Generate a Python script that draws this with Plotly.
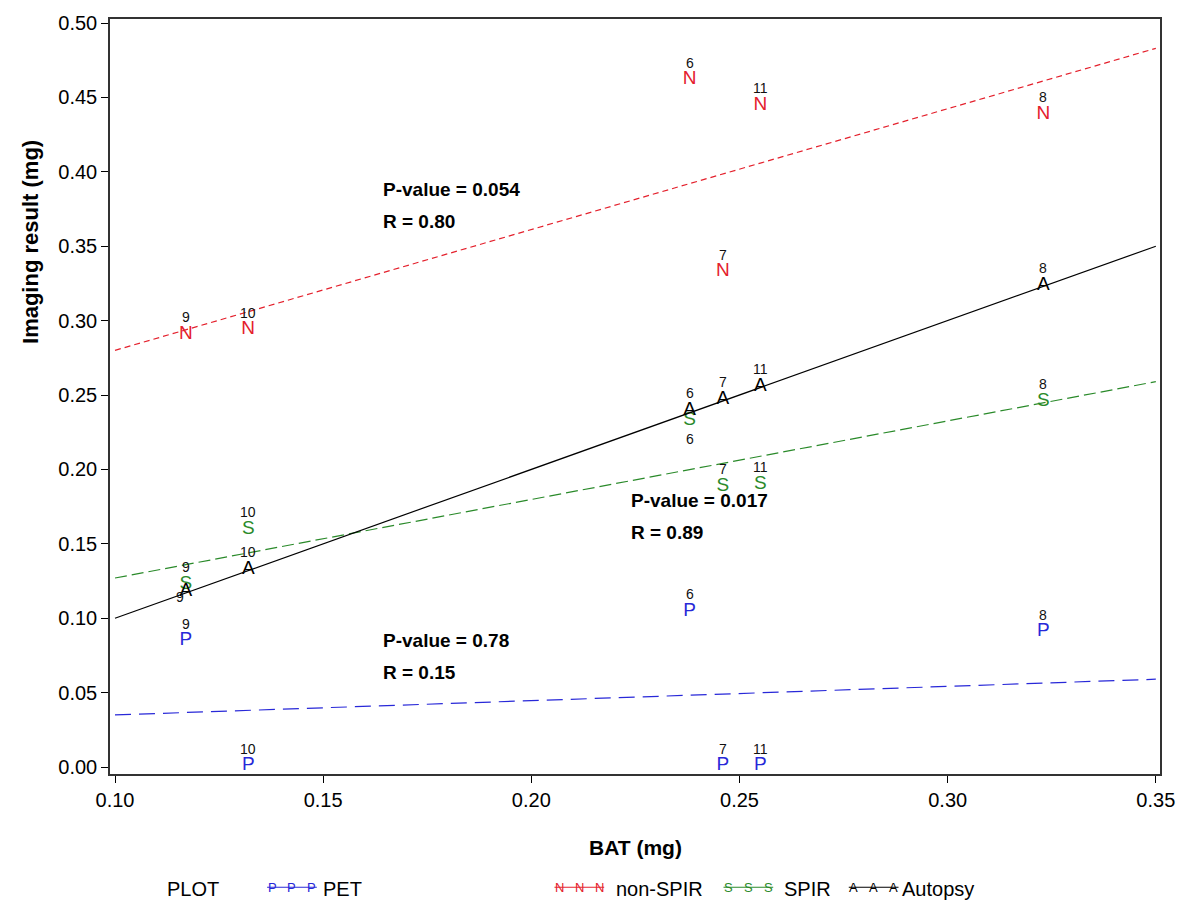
import plotly.graph_objects as go

# ---- data ----
bat_x = [0.117, 0.132, 0.238, 0.246, 0.255, 0.323]
case_ids = ["9", "10", "6", "7", "11", "8"]

pet_y = [0.085, 0.001, 0.105, 0.001, 0.001, 0.091]
nonspir_y = [0.291, 0.294, 0.462, 0.333, 0.445, 0.439]
spir_y = [0.123, 0.160, 0.233, 0.189, 0.190, 0.246]
autopsy_y = [0.118, 0.133, 0.240, 0.247, 0.256, 0.324]

fit_x = [0.10, 0.35]
pet_fit = [0.035, 0.059]
nonspir_fit = [0.280, 0.483]
spir_fit = [0.127, 0.259]
autopsy_fit = [0.100, 0.350]

stats_text = [["P-value = 0.054", "R = 0.80"], ["P-value = 0.017", "R = 0.89"], ["P-value = 0.78", "R = 0.15"]]
stats_pos = [(0.1638, 0.388), (0.2234, 0.179), (0.1638, 0.0848)]

series = [
    ("PET", "P", pet_y, pet_fit, "#2828d8", "16px,8px"),
    ("non-SPIR", "N", nonspir_y, nonspir_fit, "#e4202c", "6px,4px"),
    ("SPIR", "S", spir_y, spir_fit, "#2a8a2a", "12px,5px"),
    ("Autopsy", "A", autopsy_y, autopsy_fit, "#000000", "solid"),
]

FONT = "Liberation Sans, Arial, sans-serif"
W, H = 1187, 908
L, R, T, B = 110, 21, 14, 134
PW, PH = W - L - R, H - T - B

fig = go.Figure()

for name, letter, ys, fit, col, dash in series:
    fig.add_trace(go.Scatter(x=fit_x, y=fit, mode="lines",
                             line=dict(color=col, width=1.2, dash=dash),
                             showlegend=False, hoverinfo="skip"))
    fig.add_trace(go.Scatter(x=bat_x, y=ys, mode="text", text=[letter] * len(ys),
                             textfont=dict(family=FONT, size=19, color=col),
                             textposition="middle center", showlegend=False))

# number labels
for name, letter, ys, fit, col, dash in series:
    for i, (x, y) in enumerate(zip(bat_x, ys)):
        xs, ysft = 0, 17
        if letter == "S" and case_ids[i] == "6":
            ysft = -19
        if letter == "A" and case_ids[i] == "9":
            xs, ysft = -6, -6
        fig.add_annotation(x=x, y=y, text=case_ids[i], showarrow=False,
                           xshift=xs, yshift=ysft,
                           font=dict(family=FONT, size=14, color="#111111"))

for (t1, t2), (sx, sy) in zip(stats_text, stats_pos):
    fig.add_annotation(x=sx, y=sy, text="<b>" + t1 + "</b>", showarrow=False,
                       xanchor="left", yanchor="middle",
                       font=dict(family=FONT, size=19, color="black"))
    fig.add_annotation(x=sx, y=sy, text="<b>" + t2 + "</b>", showarrow=False,
                       xanchor="left", yanchor="middle", yshift=-32,
                       font=dict(family=FONT, size=19, color="black"))

# manual legend at bottom (pixel positions converted to paper coords)
def px(xp):
    return (xp - L) / PW
def py(yp):
    return 1 - (yp - T) / PH

leg_y = 890
fig.add_annotation(xref="paper", yref="paper", x=px(165), y=py(leg_y), text="PLOT",
                   showarrow=False, xanchor="left", yanchor="middle",
                   font=dict(family=FONT, size=20, color="black"))
legend_items = [(268, 322), (557, 617), (727, 786), (853, 905)]
for (x0, xt), (name, letter, ys, fit, col, dash) in zip(legend_items, series):
    fig.add_shape(type="line", xref="paper", yref="paper",
                  x0=px(x0), x1=px(x0 + 50), y0=py(leg_y - 2), y1=py(leg_y - 2),
                  line=dict(color=col, width=1.2))
    for k in range(3):
        fig.add_annotation(xref="paper", yref="paper", x=px(x0 + 5 + k * 20), y=py(leg_y - 2),
                           text=letter, showarrow=False, xanchor="center", yanchor="middle",
                           font=dict(family=FONT, size=13, color=col))
    fig.add_annotation(xref="paper", yref="paper", x=px(xt), y=py(leg_y), text=name,
                       showarrow=False, xanchor="left", yanchor="middle",
                       font=dict(family=FONT, size=20, color="black"))

# axis titles as annotations for precise placement
fig.add_annotation(xref="paper", yref="paper", x=px(638), y=py(848), text="<b>BAT (mg)</b>",
                   showarrow=False, xanchor="center", yanchor="middle",
                   font=dict(family=FONT, size=21, color="black"))
fig.add_annotation(xref="paper", yref="paper", x=px(30), y=py(238), text="<b>Imaging result (mg)</b>",
                   showarrow=False, xanchor="center", yanchor="middle", textangle=-90,
                   font=dict(family=FONT, size=22, color="black"))

fig.update_layout(
    width=W, height=H,
    margin=dict(l=L, r=R, t=T, b=B),
    plot_bgcolor="white", paper_bgcolor="white",
    showlegend=False,
    font=dict(family=FONT, color="black"),
)
fig.update_xaxes(range=[0.0988, 0.351], tickvals=[0.10, 0.15, 0.20, 0.25, 0.30, 0.35],
                 ticktext=["0.10", "0.15", "0.20", "0.25", "0.30", "0.35"],
                 ticks="outside", ticklen=7, tickcolor="black", showgrid=False, zeroline=False,
                 showline=True, linecolor="#333333", linewidth=1.5, mirror=True,
                 tickfont=dict(family=FONT, size=20))
fig.update_yaxes(range=[-0.0047, 0.5027], tickvals=[0, 0.05, 0.1, 0.15, 0.2, 0.25, 0.3, 0.35, 0.4, 0.45, 0.5],
                 ticktext=["0.00", "0.05", "0.10", "0.15", "0.20", "0.25", "0.30", "0.35", "0.40", "0.45", "0.50"],
                 ticks="outside", ticklen=7, tickcolor="black", showgrid=False, zeroline=False,
                 showline=True, linecolor="#333333", linewidth=1.5, mirror=True,
                 tickfont=dict(family=FONT, size=20))

fig.write_html("out.html")
